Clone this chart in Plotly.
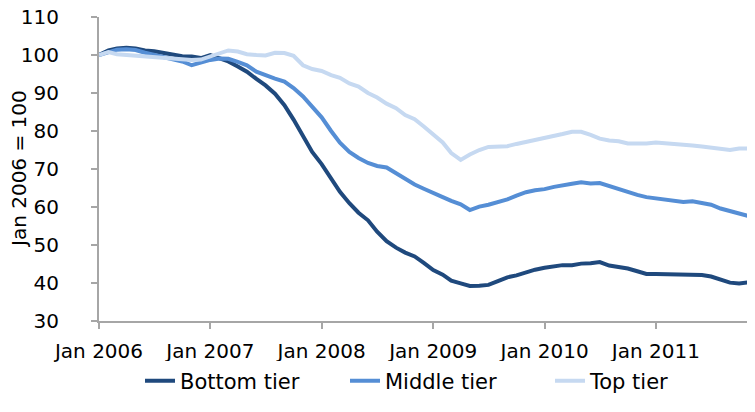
import plotly.graph_objects as go
import pandas as pd

months = pd.date_range("2006-01-01", "2011-12-01", freq="MS")

bottom_tier = [100.0, 101.2, 101.7, 101.9, 101.7, 101.2, 101.0, 100.6, 100.0, 99.7, 99.6, 99.2,
               100.0, 99.2, 98.3, 97.0, 95.6, 93.7, 92.0, 89.8, 86.8, 83.0, 78.7, 74.5,
               71.3, 67.3, 64.0, 61.0, 58.5, 56.5, 53.5, 51.0, 49.3, 48.0, 47.0, 45.3,
               43.4, 42.2, 40.6, 39.9, 39.2, 39.3, 39.5, 40.5, 41.5, 42.0, 42.8, 43.5,
               44.0, 44.4, 44.7, 44.7, 45.1, 45.2, 45.5, 44.6, 44.3, 43.8, 43.1, 42.4,
               42.4, 42.3, 42.3, 42.3, 42.2, 42.1, 41.7, 40.9, 40.1, 39.9, 40.1, 40.4]

middle_tier = [100.0, 100.8, 101.4, 101.5, 101.3, 100.6, 100.0, 99.4, 98.8, 98.3, 97.3, 98.0,
               98.7, 99.1, 99.0, 98.2, 97.3, 95.6, 94.6, 93.8, 93.0, 91.3, 89.1, 86.5,
               83.6, 80.0, 76.9, 74.5, 72.9, 71.6, 70.8, 70.4, 68.8, 67.5, 65.9, 64.8,
               63.8, 62.6, 61.6, 60.7, 59.2, 60.1, 60.6, 61.2, 62.0, 63.0, 63.9, 64.4,
               64.7, 65.3, 65.8, 66.1, 66.5, 66.2, 66.3, 65.5, 64.8, 63.8, 63.2, 62.6,
               62.3, 61.9, 61.5, 61.3, 61.5, 61.0, 60.6, 59.6, 59.0, 58.4, 57.6, 58.0]

top_tier = [100.0, 100.8, 100.2, 100.0, 99.9, 99.7, 99.5, 99.2, 99.0, 98.9, 98.7, 98.8,
            99.6, 100.6, 101.2, 100.9, 100.2, 100.0, 99.9, 100.6, 100.5, 99.8, 97.3, 96.3,
            95.8, 94.7, 94.0, 92.5, 91.7, 90.0, 88.8, 87.2, 86.0, 84.2, 83.1, 81.2,
            79.0, 77.0, 74.2, 72.4, 73.8, 75.0, 75.8, 75.9, 76.0, 76.6, 77.1, 77.7,
            78.1, 78.5, 79.2, 79.8, 79.8, 79.0, 78.0, 77.5, 77.3, 76.7, 76.6, 76.7,
            77.0, 76.8, 76.7, 76.6, 76.2, 75.9, 75.6, 75.4, 75.0, 75.4, 75.3, 75.4]

series_names = ["Bottom tier", "Middle tier", "Top tier"]
series_colors = ["#1F497D", "#558ED5", "#C6D9F1"]

tick_dates = ["2006-01-01", "2007-01-01", "2008-01-01", "2009-01-01", "2010-01-01", "2011-01-01"]
tick_labels = ["Jan 2006", "Jan 2007", "Jan 2008", "Jan 2009", "Jan 2010", "Jan 2011"]
y_title = "Jan 2006 = 100"

FONT = "Verdana, DejaVu Sans, sans-serif"

fig = go.Figure()
for name, vals, col in zip(series_names, [bottom_tier, middle_tier, top_tier], series_colors):
    fig.add_trace(go.Scatter(x=months, y=vals, mode="lines", name=name,
                             line=dict(color=col, width=4)))

# the page body adds an 8px offset, so the figure is sized to fill the rest of the window
fig.update_layout(
    width=747, height=404,
    margin=dict(l=91, r=0, t=9, b=91),
    paper_bgcolor="white", plot_bgcolor="white",
    font=dict(family=FONT, size=20, color="#000000"),
    showlegend=True,
    legend=dict(orientation="h", x=1, xanchor="right",
                yref="container", y=0.0767, yanchor="middle",
                font=dict(size=21), itemwidth=30, entrywidth=160, tracegroupgap=0),
    annotations=[dict(text=y_title, textangle=-90, xref="paper", yref="paper",
                      x=0, y=0.5, xanchor="center", yanchor="middle", xshift=-80,
                      showarrow=False, font=dict(size=20))],
)
fig.update_xaxes(
    type="date", range=["2006-01-01", "2011-11-22"],
    tickvals=tick_dates, ticktext=tick_labels,
    showgrid=False, zeroline=False, automargin=False,
    showline=True, linecolor="#A6A6A6", linewidth=2,
    ticks="outside", ticklen=6, tickwidth=2, tickcolor="#A6A6A6",
    ticklabelstandoff=5, ticklabeloverflow="allow",
    tickfont=dict(size=20),
)
fig.update_yaxes(
    range=[30, 110], dtick=10, tick0=30,
    showgrid=False, zeroline=False, automargin=False,
    showline=True, linecolor="#A6A6A6", linewidth=2,
    ticks="outside", ticklen=6, tickwidth=2, tickcolor="#A6A6A6",
    ticklabelstandoff=28, ticklabeloverflow="allow",
    tickfont=dict(size=20),
)

fig.write_html("out.html")
